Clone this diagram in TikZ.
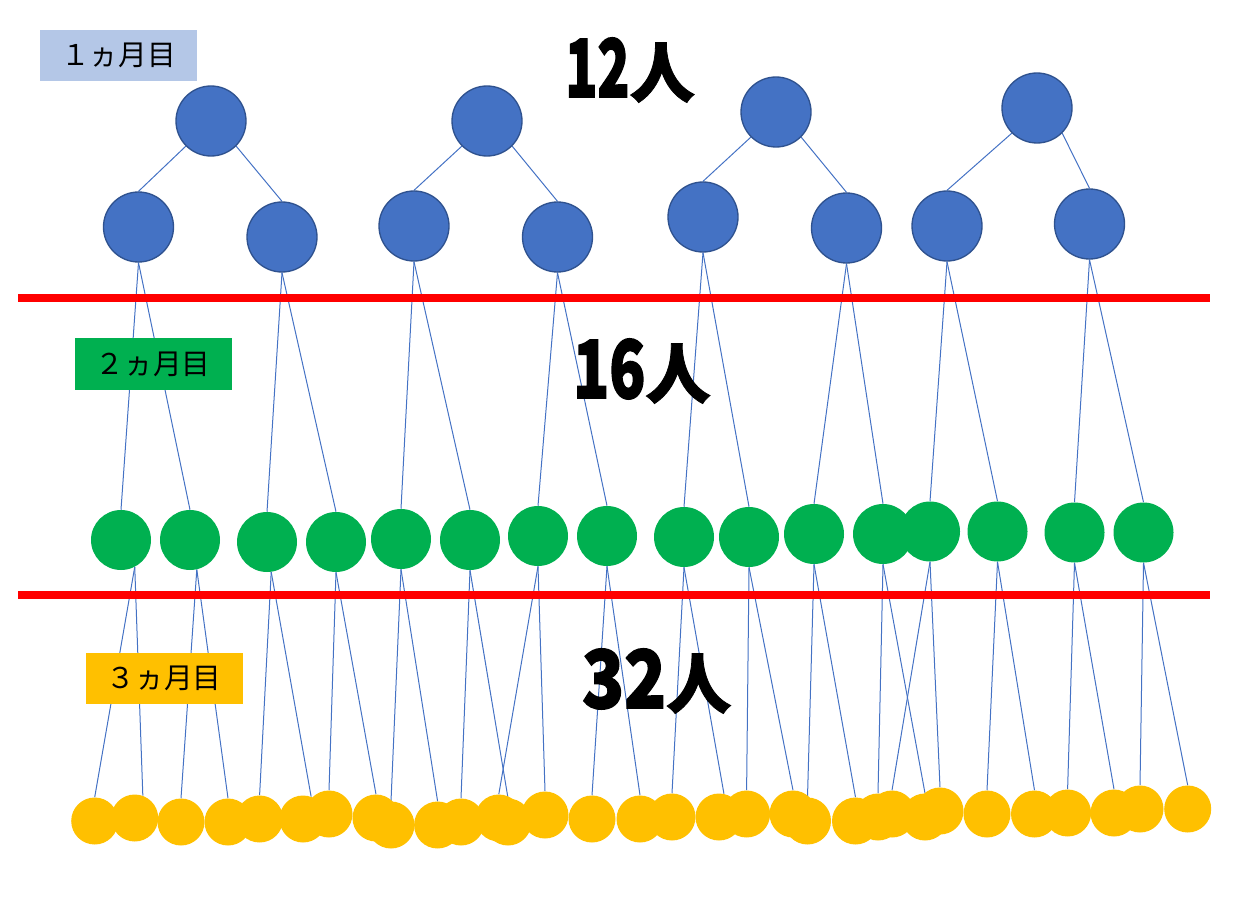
\documentclass[tikz,border=0pt]{standalone}
\usepackage{fontspec}
\newfontfamily\jp{Noto Sans CJK JP}
\newfontfamily\jpheavy[FakeBold=2.2]{Noto Sans CJK JP}
\newfontfamily\jpmid[FakeBold=1.2]{Noto Sans CJK JP}
\pgfdeclarelayer{background}
\pgfsetlayers{background,main}
\definecolor{bluefill}{HTML}{4472C4}
\definecolor{blueedge}{HTML}{2F528F}
\definecolor{greenfill}{HTML}{00B050}
\definecolor{yellowfill}{HTML}{FFC000}
\definecolor{lightblue}{HTML}{B4C7E7}
\definecolor{redrule}{HTML}{FF0000}
\newcommand\bigdig[2]{\scalebox{#1}[1]{\jpheavy\fontsize{60pt}{60pt}\selectfont\bfseries #2}}
\newcommand\bigjin{{\jpmid\fontsize{49pt}{49pt}\selectfont\bfseries 人}}
\begin{document}
\begin{tikzpicture}[x=0.75pt,y=-0.75pt,
  bluenode/.style={circle,fill=bluefill,draw=blueedge,line width=1pt,minimum size=52.5pt,inner sep=0pt},
  greennode/.style={circle,fill=greenfill,minimum size=45pt,inner sep=0pt},
  yellownode/.style={circle,fill=yellowfill,minimum size=35.25pt,inner sep=0pt},
  conn/.style={draw=bluefill,line width=0.75pt},
  redline/.style={draw=redrule,line width=6pt},
  monthbox/.style={minimum width=117.75pt,minimum height=38.25pt,inner sep=0pt,
    font=\jp\fontsize{21.5pt}{24pt}\selectfont},
  bigtxt/.style={inner sep=0pt,anchor=base west}
  ]
\useasboundingbox (0,0) rectangle (1252,898);

% level 1 (blue)
\node[bluenode] (t1) at (211,121) {};
\node[bluenode] (t2) at (487,121) {};
\node[bluenode] (t3) at (776,112) {};
\node[bluenode] (t4) at (1037,108) {};
\node[bluenode] (c1) at (138.5,227) {};
\node[bluenode] (c2) at (282,237) {};
\node[bluenode] (c3) at (414,226) {};
\node[bluenode] (c4) at (557.5,237) {};
\node[bluenode] (c5) at (703,217) {};
\node[bluenode] (c6) at (846.5,228) {};
\node[bluenode] (c7) at (947,226) {};
\node[bluenode] (c8) at (1089.5,224) {};

% level 2 (green)
\foreach \n/\x/\y in {g1/121/540, g2/190/540, g3/267/542, g4/336/542,
  g5/401/539, g6/470/540, g7/538/536, g8/607/536, g9/684/537, g10/749/537,
  g11/814/534, g12/883/534, g13/930/531.5, g14/997.5/531.5,
  g15/1074.5/532.5, g16/1143.5/532.5}
  \node[greennode] (\n) at (\x,\y) {};

% level 3 (yellow)
\foreach \n/\x/\y in {y1/94.7/821, y2/134.7/818, y3/181/822, y4/228/822,
  y5/259.6/819, y6/303/819, y7/329/814, y8/376/818, y9/391/825, y10/437.6/825,
  y11/461/822, y12/498.8/818, y13/508/822, y14/545/815, y15/592/819, y16/640/819,
  y17/672/817, y18/719/817, y19/746.6/814, y20/793/814, y21/807.5/821, y22/855.5/821,
  y23/878/817, y24/892/814, y25/925/817, y26/940/811, y27/987/814, y28/1034.5/814,
  y29/1067.6/813, y30/1114/813, y31/1140/809, y32/1187.7/809}
  \node[yellownode] (\n) at (\x,\y) {};

\begin{pgfonlayer}{background}
\foreach \t/\a/\b in {t1/c1/c2, t2/c3/c4, t3/c5/c6, t4/c7/c8} {
  \draw[conn] (\t.-135) -- (\a.north);
  \draw[conn] (\t.-45) -- (\b.north);
}
\foreach \c/\a/\b in {c1/g1/g2, c2/g3/g4, c3/g5/g6, c4/g7/g8,
  c5/g9/g10, c6/g11/g12, c7/g13/g14, c8/g15/g16} {
  \draw[conn] (\c.south) -- (\a.north);
  \draw[conn] (\c.south) -- (\b.north);
}
\foreach \g/\ga/\a/\aa/\b/\ba in {g1/-63/y1/90/y2/70, g2/-77/y3/90/y4/90,
  g3/-82/y5/90/y6/70, g4/-90/y7/90/y8/90, g5/-90/y9/90/y10/90,
  g6/-90/y11/90/y13/90, g7/-90/y12/90/y14/90, g8/-90/y15/90/y16/90,
  g9/-90/y17/90/y18/78, g10/-90/y19/90/y20/90, g11/-90/y21/90/y22/90,
  g12/-90/y23/90/y25/90, g13/-90/y24/90/y26/90, g14/-90/y27/90/y28/90,
  g15/-90/y29/90/y30/90, g16/-90/y31/90/y32/90} {
  \draw[conn] (\g.\ga) -- (\a.\aa);
  \draw[conn] (\g.\ga) -- (\b.\ba);
}
\end{pgfonlayer}

% red separators
\coordinate (r1a) at (18,298);
\coordinate (r1b) at (1210,298);
\coordinate (r2a) at (18,595);
\coordinate (r2b) at (1210,595);
\draw[redline] (r1a) -- (r1b);
\draw[redline] (r2a) -- (r2b);

% month labels
\node[monthbox,fill=lightblue] (m1) at (118.5,55.5) {１ヵ月目};
\node[monthbox,fill=greenfill] (m2) at (153,364) {２ヵ月目};
\node[monthbox,fill=yellowfill] (m3) at (164,678.5) {３ヵ月目};

% counts
\node[bigtxt] (n1) at (565,97) {\bigdig{0.66}{12}\bigjin};
\node[bigtxt] (n2) at (573,398) {\bigdig{0.74}{16}\bigjin};
\node[bigtxt] (n3) at (582,708) {\bigdig{0.86}{32}\bigjin};
\end{tikzpicture}
\end{document}
